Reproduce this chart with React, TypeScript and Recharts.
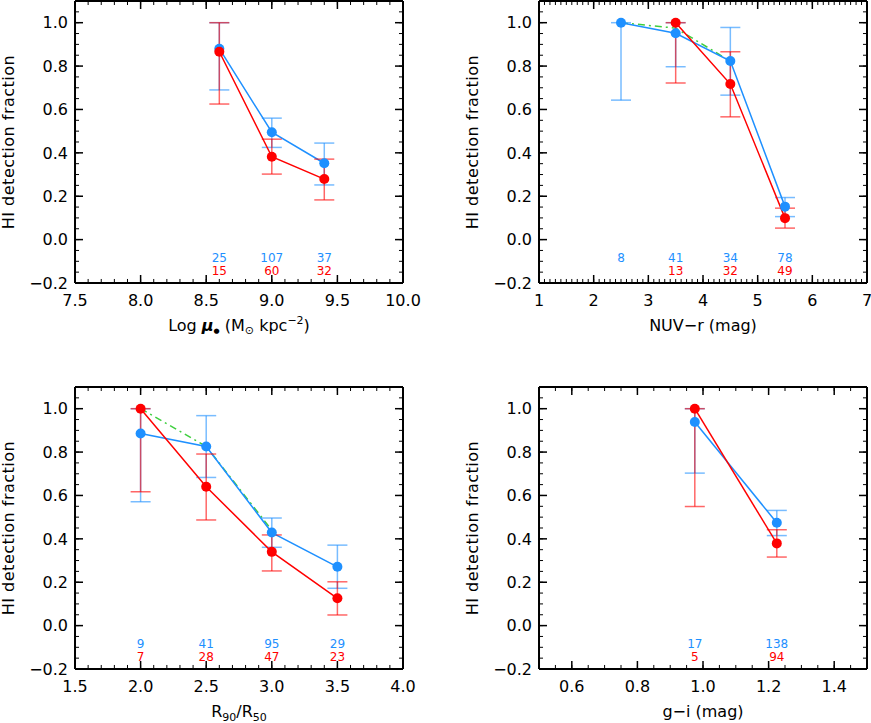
import React from "react";
import { ComposedChart, Line, Scatter, XAxis, YAxis, ErrorBar, Label } from "recharts";

const FONT = "'DejaVu Sans', sans-serif";
const BLUE = "#1E90FF";
const RED = "#FF0000";
const GREEN = "#3FCF3F";

// count labels sit at these y levels (data units)
const BLUE_ROW = -0.083;
const RED_ROW = -0.145;

// panel 1: stellar mass surface density
const muX = [8.6, 9.0, 9.4];
const muBlue = [0.88, 0.495, 0.352];
const muBlueLo = [0.69, 0.425, 0.252];
const muBlueHi = [1.0, 0.56, 0.445];
const muRed = [0.866, 0.382, 0.279];
const muRedLo = [0.625, 0.302, 0.183];
const muRedHi = [1.0, 0.463, 0.371];
const muBlueN = [25, 107, 37];
const muRedN = [15, 60, 32];

// panel 2: NUV-r
const nuvX = [2.5, 3.5, 4.5, 5.5];
const nuvBlue = [1.0, 0.951, 0.823, 0.152];
const nuvBlueLo = [0.643, 0.797, 0.666, 0.106];
const nuvBlueHi = [1.0, 1.0, 0.978, 0.194];
const nuvRed = [null, 1.0, 0.717, 0.099];
const nuvRedLo = [null, 0.722, 0.566, 0.053];
const nuvRedHi = [null, 1.0, 0.866, 0.145];
const nuvGreen = [1.0, 0.975, 0.823, null];
const nuvBlueN = [8, 41, 34, 78];
const nuvRedN = [null, 13, 32, 49];

// panel 3: concentration
const rX = [2.0, 2.5, 3.0, 3.5];
const rBlue = [0.886, 0.826, 0.429, 0.271];
const rBlueLo = [0.571, 0.683, 0.361, 0.172];
const rBlueHi = [1.0, 0.968, 0.496, 0.371];
const rRed = [1.0, 0.64, 0.34, 0.126];
const rRedLo = [0.617, 0.487, 0.252, 0.049];
const rRedHi = [1.0, 0.791, 0.418, 0.202];
const rGreen = [1.0, 0.826, 0.44, null];
const rBlueN = [9, 41, 95, 29];
const rRedN = [7, 28, 47, 23];

// panel 4: g-i
const giX = [0.975, 1.225];
const giBlue = [0.939, 0.474];
const giBlueLo = [0.703, 0.415];
const giBlueHi = [1.0, 0.531];
const giRed = [1.0, 0.379];
const giRedLo = [0.549, 0.316];
const giRedHi = [1.0, 0.442];
const giBlueN = [17, 138];
const giRedN = [5, 94];

const yMajor = [-0.2, 0, 0.2, 0.4, 0.6, 0.8, 1.0];

function range(a, b, step) {
  const out = [];
  for (let v = a; v <= b + 1e-9; v += step) out.push(Math.round(v * 1000) / 1000);
  return out;
}
const yMinor = range(-0.2, 1.1, 0.05);

function buildRows(x, blue, blueLo, blueHi, red, redLo, redHi, green?) {
  return x.map((xv, i) => ({
    x: xv,
    blue: blue[i],
    blueErr: blue[i] == null ? undefined : [blue[i] - blueLo[i], blueHi[i] - blue[i]],
    red: red[i],
    redErr: red[i] == null ? undefined : [red[i] - redLo[i], redHi[i] - red[i]],
    green: green ? green[i] : null,
  }));
}

function countRows(x, n, y) {
  return x.map((xv, i) => ({ x: xv, y, n: n[i] })).filter((r) => r.n != null);
}

const countShape = (color) => (p) => (
  <text x={p.cx} y={p.cy} textAnchor="middle" dominantBaseline="central" fill={color} fontSize={12}>
    {p.payload.n}
  </text>
);

const fmtMinus = (s) => s.replace("-", "\u2212");
const fmt1 = (v) => fmtMinus(v.toFixed(1));
const fmt0 = (v) => fmtMinus(v.toFixed(0));

const yTitle = (p) => {
  const vb = p.viewBox;
  const cx = vb.x - 61;
  const cy = vb.y + vb.height / 2;
  return (
    <text x={cx} y={cy} transform={`rotate(-90 ${cx} ${cy})`} textAnchor="middle" fontSize={16}
      letterSpacing={0.5} fill="#000">
      HI detection fraction
    </text>
  );
};

const xTitle = (content) => (p) => {
  const vb = p.viewBox;
  return (
    <text x={vb.x + vb.width / 2} y={vb.y + 48} textAnchor="middle" fontSize={16} fill="#000">
      {content}
    </text>
  );
};

const noLabel = () => <g />;
const tickStyle = { fill: "#000", fontSize: 16 };
const majorLine = { stroke: "#000", strokeWidth: 1.5 };
const minorLine = { stroke: "#000", strokeWidth: 1 };
const T = 0.01; // near-zero axis thickness so stacked axes coincide

function Panel({ left, top, width, height, rows, blueN, redN, xDomain, xMajor, xLabels, xMinor, xFmt, title }) {
  const plotW = 328;
  const plotH = 282;
  const margin = { top: 1, left: 75, right: width - 75 - plotW, bottom: height - 1 - plotH };
  // tick-only axes use mirror so their tick marks point into the frame
  const xTicks = (id, orientation, ticks, size, line, axisLine) => (
    <XAxis xAxisId={id} orientation={orientation} type="number" dataKey="x" domain={xDomain} allowDataOverflow
      ticks={ticks} interval={0} height={T} mirror tick={noLabel} tickSize={size} tickLine={line} axisLine={axisLine} />
  );
  const yTicks = (id, orientation, ticks, size, line, axisLine) => (
    <YAxis yAxisId={id} orientation={orientation} type="number" domain={[-0.2, 1.1]} allowDataOverflow
      ticks={ticks} interval={0} width={T} mirror tick={noLabel} tickSize={size} tickLine={line} axisLine={axisLine} />
  );
  const frame = { stroke: "#000", strokeWidth: 2 };
  return (
    <div style={{ position: "absolute", left, top, width, height }}>
      <ComposedChart width={width} height={height} data={rows} margin={margin}>
        {xTicks("bmn", "bottom", xMinor, 4, minorLine, false)}
        {xTicks("bmj", "bottom", xMajor, 8, majorLine, false)}
        <XAxis xAxisId="main" type="number" dataKey="x" domain={xDomain} allowDataOverflow ticks={xLabels} interval={0}
          height={T} tick={tickStyle} tickSize={0} tickMargin={12} tickLine={false} tickFormatter={xFmt} axisLine={frame}>
          <Label content={xTitle(title)} />
        </XAxis>
        {xTicks("tmn", "top", xMinor, 4, minorLine, false)}
        {xTicks("tmj", "top", xMajor, 8, majorLine, frame)}

        {yTicks("lmn", "left", yMinor, 4, minorLine, false)}
        {yTicks("lmj", "left", yMajor, 8, majorLine, false)}
        <YAxis yAxisId="main" type="number" domain={[-0.2, 1.1]} allowDataOverflow ticks={yMajor} interval={0}
          width={T} tick={tickStyle} tickSize={0} tickMargin={7} tickLine={false} tickFormatter={fmt1} axisLine={frame}>
          <Label content={yTitle} />
        </YAxis>
        {yTicks("rmn", "right", yMinor, 4, minorLine, false)}
        {yTicks("rmj", "right", yMajor, 8, majorLine, frame)}

        <Line xAxisId="main" yAxisId="main" dataKey="green" type="linear" stroke={GREEN} strokeWidth={1.5}
          strokeDasharray="7 4 2 4" dot={false} activeDot={false} isAnimationActive={false} />
        <Line xAxisId="main" yAxisId="main" dataKey="blue" type="linear" stroke={BLUE} strokeWidth={1.5}
          dot={{ r: 5, fill: BLUE, stroke: BLUE, strokeWidth: 0 }} activeDot={false} isAnimationActive={false}>
          <ErrorBar dataKey="blueErr" direction="y" width={10} stroke={BLUE} strokeWidth={1.5} strokeOpacity={0.6} />
        </Line>
        <Line xAxisId="main" yAxisId="main" dataKey="red" type="linear" stroke={RED} strokeWidth={1.5}
          dot={{ r: 5, fill: RED, stroke: RED, strokeWidth: 0 }} activeDot={false} isAnimationActive={false}>
          <ErrorBar dataKey="redErr" direction="y" width={10} stroke={RED} strokeWidth={1.5} strokeOpacity={0.6} />
        </Line>
        <Scatter xAxisId="main" yAxisId="main" data={countRows(rows.map((r) => r.x), blueN, BLUE_ROW)} dataKey="y"
          shape={countShape(BLUE)} isAnimationActive={false} />
        <Scatter xAxisId="main" yAxisId="main" data={countRows(rows.map((r) => r.x), redN, RED_ROW)} dataKey="y"
          shape={countShape(RED)} isAnimationActive={false} />
      </ComposedChart>
    </div>
  );
}

export default function App() {
  return (
    <div style={{ position: "absolute", left: 0, top: 0, width: 871, height: 723, background: "#fff", fontFamily: FONT }}>
      <Panel
        left={0} top={0} width={430} height={360}
        rows={buildRows(muX, muBlue, muBlueLo, muBlueHi, muRed, muRedLo, muRedHi)}
        blueN={muBlueN} redN={muRedN}
        xDomain={[7.5, 10]} xMajor={range(7.5, 10, 0.5)} xLabels={range(7.5, 10, 0.5)} xMinor={range(7.5, 10, 0.1)} xFmt={fmt1}
        title={<>Log <tspan fontWeight="bold" fontStyle="italic">μ</tspan><tspan fontSize={7} dy={2}>●</tspan><tspan dy={-2}> (M</tspan><tspan fontSize={11} dy={3}>⊙</tspan><tspan dy={-3}> kpc</tspan><tspan fontSize={11} dy={-7}>−2</tspan><tspan dy={7}>)</tspan></>}
      />
      <Panel
        left={464} top={0} width={407} height={360}
        rows={buildRows(nuvX, nuvBlue, nuvBlueLo, nuvBlueHi, nuvRed, nuvRedLo, nuvRedHi, nuvGreen)}
        blueN={nuvBlueN} redN={nuvRedN}
        xDomain={[1, 7]} xMajor={range(1, 7, 1)} xLabels={range(1, 7, 1)} xMinor={range(1, 7, 0.1)} xFmt={fmt0}
        title={"NUV\u2212r (mag)"}
      />
      <Panel
        left={0} top={386} width={430} height={337}
        rows={buildRows(rX, rBlue, rBlueLo, rBlueHi, rRed, rRedLo, rRedHi, rGreen)}
        blueN={rBlueN} redN={rRedN}
        xDomain={[1.5, 4]} xMajor={range(1.5, 4, 0.5)} xLabels={range(1.5, 4, 0.5)} xMinor={range(1.5, 4, 0.1)} xFmt={fmt1}
        title={<>R<tspan fontSize={11} dy={4}>90</tspan><tspan dy={-4}>/R</tspan><tspan fontSize={11} dy={4}>50</tspan></>}
      />
      <Panel
        left={464} top={386} width={407} height={337}
        rows={buildRows(giX, giBlue, giBlueLo, giBlueHi, giRed, giRedLo, giRedHi)}
        blueN={giBlueN} redN={giRedN}
        xDomain={[0.5, 1.5]} xMajor={range(0.6, 1.4, 0.2)} xLabels={range(0.6, 1.4, 0.2)} xMinor={range(0.5, 1.5, 0.05)} xFmt={fmt1}
        title={"g\u2212i (mag)"}
      />
    </div>
  );
}
